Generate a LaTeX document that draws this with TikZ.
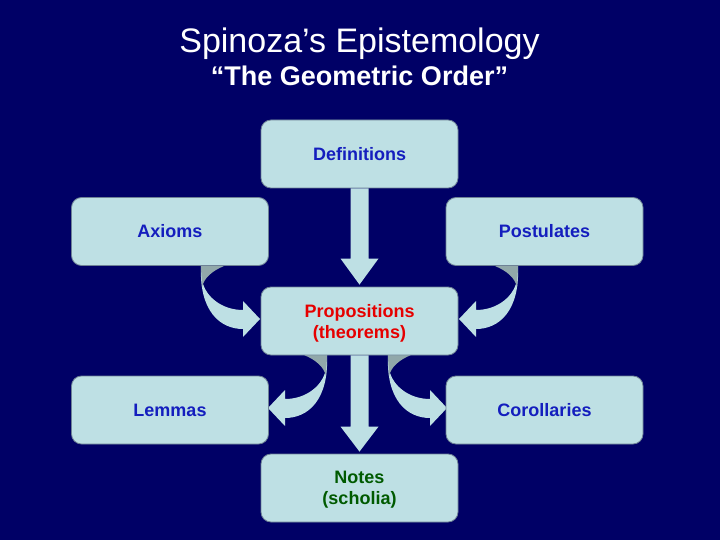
\documentclass[tikz,border=0pt]{standalone}
\usepackage{fontspec}
\setmainfont{Liberation Sans}
\usetikzlibrary{calc}
\definecolor{bg}{RGB}{0,0,102}
\definecolor{boxfill}{RGB}{190,224,228}
\definecolor{boxline}{RGB}{110,130,150}
\definecolor{lbl}{RGB}{20,30,190}
\definecolor{lred}{RGB}{230,0,0}
\definecolor{lgreen}{RGB}{0,90,0}
\definecolor{twist}{RGB}{145,168,170}
\tikzset{
  box/.style={draw=boxline, line width=0.8pt, fill=boxfill, rounded corners=10pt,
    minimum width=197pt, minimum height=68pt, inner sep=0pt, align=center,
    font=\fontsize{18}{21}\selectfont\bfseries, text=lbl},
  titletext/.style={text=white, inner sep=0pt, anchor=base},
  arrowfill/.style={fill=boxfill},
  curvy/.pic={
    \fill[boxfill] (0,0) .. controls (-2,45) and (19,63) .. (42,63) -- (42,71) -- (59,53)
      -- (42,35) -- (42,44) .. controls (21,44) and (6,31) .. (2,18) -- cycle;
    \fill[twist] (0,0) -- (23,0) .. controls (11,5) and (3,12) .. (1,21) -- cycle;
  }
}
\begin{document}
\begin{tikzpicture}[x=1pt,y=-1pt]
\fill[bg] (0,0) rectangle (720,540);
\useasboundingbox (0,0) rectangle (720,540);

\node[titletext, font=\fontsize{34}{40}\selectfont] (title) at (359.5,53) {Spinoza’s Epistemology};
\node[titletext, font=\fontsize{27}{32}\selectfont\bfseries] (subtitle) at (359.5,86) {“The Geometric Order”};

% curved arrows (drawn before boxes)
\pic at (201,266) {curvy};
\pic[xscale=-1] at (518,266) {curvy};
\pic[xscale=-1] at (327,355) {curvy};
\pic at (388,355) {curvy};

\node[box] (def) at (359.5,154) {Definitions};
\node[box] (ax) at (170,231.5) {Axioms};
\node[box] (post) at (544.5,231.5) {Postulates};
\node[box, draw=boxline, fill=boxfill] (prop) at (359.5,321) {};
\node[box, fill=none, draw=none, text=lred] (proplbl) at (359.5,323) {Propositions\\(theorems)};
\node[box] (lem) at (170,410) {Lemmas};
\node[box] (cor) at (544.5,410) {Corollaries};
\node[box] (notes) at (359.5,488) {};
\node[box, fill=none, draw=none, text=lgreen] (noteslbl) at (359.5,490) {Notes\\(scholia)};

% straight arrows
\fill[arrowfill] ($(def.south)+(-9,0)$) -- ($(prop.north)+(-9,-28)$) -- ($(prop.north)+(-19,-28)$)
  -- ($(prop.north)+(0,-2)$) -- ($(prop.north)+(19,-28)$) -- ($(prop.north)+(9,-28)$)
  -- ($(def.south)+(9,0)$) -- cycle;
\fill[arrowfill] ($(prop.south)+(-9,0)$) -- ($(notes.north)+(-9,-27)$) -- ($(notes.north)+(-19,-27)$)
  -- ($(notes.north)+(0,-2)$) -- ($(notes.north)+(19,-27)$) -- ($(notes.north)+(9,-27)$)
  -- ($(prop.south)+(9,0)$) -- cycle;
\end{tikzpicture}
\end{document}
